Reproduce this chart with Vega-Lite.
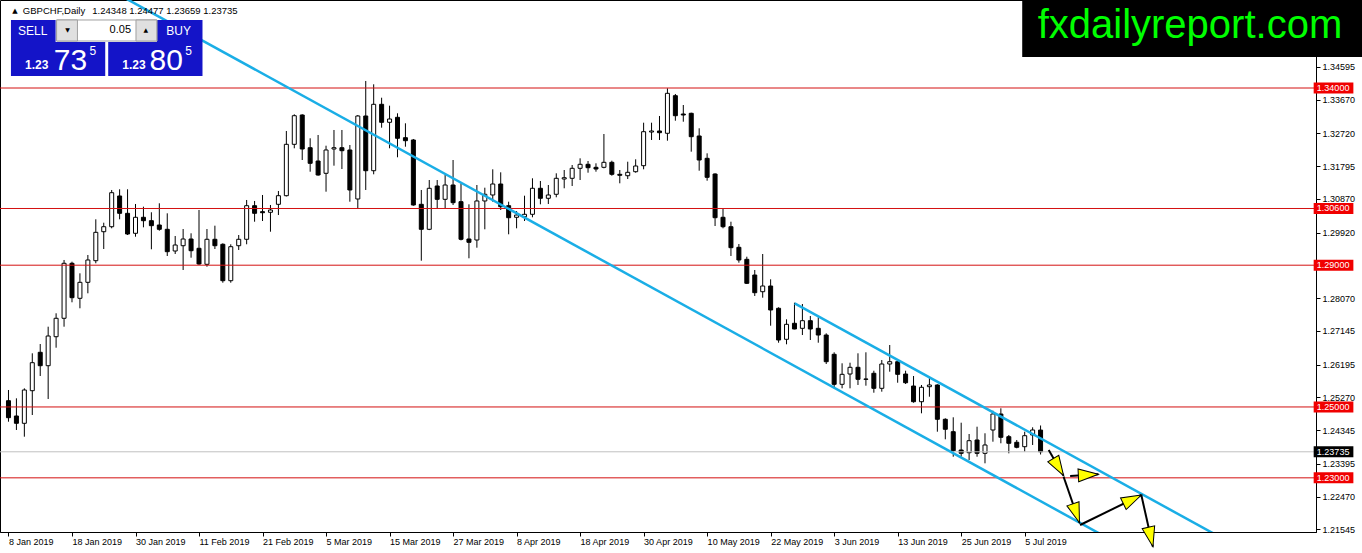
{
  "$schema": "https://vega.github.io/schema/vega-lite/v6.json",
  "width": 1316,
  "height": 532,
  "autosize": {"type": "none"},
  "padding": {"left": 0, "top": 0, "right": 46, "bottom": 21},
  "background": "#ffffff",
  "config": {"view": {"stroke": "#000", "strokeWidth": 1}},
  "datasets": {
    "candles": [
      {"bar":0,"date":"2019-01-08","o":1.25177,"h":1.25479,"l":1.24584,"c":1.24697},
      {"bar":1,"date":"2019-01-09","o":1.24745,"h":1.25244,"l":1.2435,"c":1.24539},
      {"bar":2,"date":"2019-01-10","o":1.24539,"h":1.25526,"l":1.24161,"c":1.25479},
      {"bar":3,"date":"2019-01-11","o":1.25459,"h":1.26514,"l":1.24773,"c":1.26249},
      {"bar":4,"date":"2019-01-14","o":1.26542,"h":1.26776,"l":1.25874,"c":1.26164},
      {"bar":5,"date":"2019-01-15","o":1.26164,"h":1.27265,"l":1.25225,"c":1.27002},
      {"bar":6,"date":"2019-01-16","o":1.26982,"h":1.27643,"l":1.26672,"c":1.27502},
      {"bar":7,"date":"2019-01-17","o":1.27502,"h":1.29147,"l":1.27265,"c":1.29054},
      {"bar":8,"date":"2019-01-18","o":1.29054,"h":1.29099,"l":1.27953,"c":1.28083},
      {"bar":9,"date":"2019-01-21","o":1.28066,"h":1.28771,"l":1.27784,"c":1.28517},
      {"bar":10,"date":"2019-01-22","o":1.28517,"h":1.29288,"l":1.28207,"c":1.29147},
      {"bar":11,"date":"2019-01-23","o":1.29127,"h":1.30295,"l":1.29054,"c":1.29928},
      {"bar":12,"date":"2019-01-24","o":1.29945,"h":1.30199,"l":1.29457,"c":1.30086},
      {"bar":13,"date":"2019-01-25","o":1.30086,"h":1.31122,"l":1.30041,"c":1.31046},
      {"bar":14,"date":"2019-01-28","o":1.30953,"h":1.31142,"l":1.30295,"c":1.30464},
      {"bar":15,"date":"2019-01-29","o":1.30464,"h":1.31142,"l":1.29852,"c":1.2988},
      {"bar":16,"date":"2019-01-30","o":1.299,"h":1.30727,"l":1.29804,"c":1.30352},
      {"bar":17,"date":"2019-01-31","o":1.30352,"h":1.30651,"l":1.30069,"c":1.30256},
      {"bar":18,"date":"2019-02-01","o":1.30256,"h":1.30493,"l":1.29449,"c":1.30115},
      {"bar":19,"date":"2019-02-04","o":1.30134,"h":1.30747,"l":1.29973,"c":1.30013},
      {"bar":20,"date":"2019-02-05","o":1.30013,"h":1.30464,"l":1.2926,"c":1.29381},
      {"bar":21,"date":"2019-02-06","o":1.29401,"h":1.29824,"l":1.29316,"c":1.2957},
      {"bar":22,"date":"2019-02-07","o":1.2955,"h":1.30021,"l":1.28865,"c":1.29739},
      {"bar":23,"date":"2019-02-08","o":1.29739,"h":1.299,"l":1.29212,"c":1.29409},
      {"bar":24,"date":"2019-02-11","o":1.29477,"h":1.30558,"l":1.29006,"c":1.29034},
      {"bar":25,"date":"2019-02-12","o":1.29025,"h":1.30021,"l":1.28958,"c":1.29731},
      {"bar":26,"date":"2019-02-13","o":1.29731,"h":1.30115,"l":1.29457,"c":1.2955},
      {"bar":27,"date":"2019-02-14","o":1.2959,"h":1.29618,"l":1.28506,"c":1.28563},
      {"bar":28,"date":"2019-02-15","o":1.28563,"h":1.2959,"l":1.28506,"c":1.29522},
      {"bar":29,"date":"2019-02-18","o":1.2955,"h":1.29852,"l":1.29429,"c":1.29731},
      {"bar":30,"date":"2019-02-19","o":1.29731,"h":1.3084,"l":1.2959,"c":1.30679},
      {"bar":31,"date":"2019-02-20","o":1.30679,"h":1.30812,"l":1.30227,"c":1.30464},
      {"bar":32,"date":"2019-02-21","o":1.3051,"h":1.30981,"l":1.30247,"c":1.30481},
      {"bar":33,"date":"2019-02-22","o":1.30493,"h":1.30699,"l":1.29945,"c":1.30558},
      {"bar":34,"date":"2019-02-25","o":1.30718,"h":1.31094,"l":1.30416,"c":1.30961},
      {"bar":35,"date":"2019-02-26","o":1.30961,"h":1.32787,"l":1.3094,"c":1.32411},
      {"bar":36,"date":"2019-02-27","o":1.32411,"h":1.33258,"l":1.32299,"c":1.33218},
      {"bar":37,"date":"2019-02-28","o":1.33238,"h":1.33258,"l":1.31968,"c":1.32279},
      {"bar":38,"date":"2019-03-01","o":1.32315,"h":1.32581,"l":1.31638,"c":1.31875},
      {"bar":39,"date":"2019-03-04","o":1.3194,"h":1.32674,"l":1.31525,"c":1.31545},
      {"bar":40,"date":"2019-03-05","o":1.31593,"h":1.32372,"l":1.31074,"c":1.32251},
      {"bar":41,"date":"2019-03-06","o":1.32279,"h":1.32815,"l":1.31808,"c":1.32315},
      {"bar":42,"date":"2019-03-07","o":1.32315,"h":1.32815,"l":1.31714,"c":1.32231},
      {"bar":43,"date":"2019-03-08","o":1.32251,"h":1.32392,"l":1.30792,"c":1.31122},
      {"bar":44,"date":"2019-03-11","o":1.30868,"h":1.33238,"l":1.30586,"c":1.3321},
      {"bar":45,"date":"2019-03-12","o":1.3321,"h":1.34198,"l":1.31122,"c":1.31666},
      {"bar":46,"date":"2019-03-13","o":1.31666,"h":1.34104,"l":1.31565,"c":1.3354},
      {"bar":47,"date":"2019-03-14","o":1.3354,"h":1.33726,"l":1.3288,"c":1.33032},
      {"bar":48,"date":"2019-03-15","o":1.33032,"h":1.33501,"l":1.32299,"c":1.33125},
      {"bar":49,"date":"2019-03-18","o":1.33173,"h":1.33286,"l":1.32045,"c":1.32581},
      {"bar":50,"date":"2019-03-19","o":1.32598,"h":1.33004,"l":1.32344,"c":1.32513},
      {"bar":51,"date":"2019-03-20","o":1.32533,"h":1.32561,"l":1.30679,"c":1.30699},
      {"bar":52,"date":"2019-03-21","o":1.30718,"h":1.31122,"l":1.29127,"c":1.30013},
      {"bar":53,"date":"2019-03-22","o":1.30013,"h":1.31404,"l":1.2999,"c":1.3117},
      {"bar":54,"date":"2019-03-25","o":1.31235,"h":1.31404,"l":1.30586,"c":1.30859},
      {"bar":55,"date":"2019-03-26","o":1.30859,"h":1.31545,"l":1.30605,"c":1.31263},
      {"bar":56,"date":"2019-03-27","o":1.31263,"h":1.31968,"l":1.30699,"c":1.30764},
      {"bar":57,"date":"2019-03-28","o":1.30792,"h":1.31311,"l":1.297,"c":1.29731},
      {"bar":58,"date":"2019-03-29","o":1.29739,"h":1.30718,"l":1.29195,"c":1.29646},
      {"bar":59,"date":"2019-04-01","o":1.29711,"h":1.31263,"l":1.29494,"c":1.30812},
      {"bar":60,"date":"2019-04-02","o":1.30812,"h":1.31187,"l":1.30013,"c":1.31001},
      {"bar":61,"date":"2019-04-03","o":1.30981,"h":1.31706,"l":1.30792,"c":1.31291},
      {"bar":62,"date":"2019-04-04","o":1.31291,"h":1.31621,"l":1.30558,"c":1.30651},
      {"bar":63,"date":"2019-04-05","o":1.30679,"h":1.30792,"l":1.29872,"c":1.3034},
      {"bar":64,"date":"2019-04-08","o":1.30352,"h":1.30529,"l":1.30041,"c":1.30416},
      {"bar":65,"date":"2019-04-09","o":1.30369,"h":1.30961,"l":1.30247,"c":1.30436},
      {"bar":66,"date":"2019-04-10","o":1.30436,"h":1.31452,"l":1.30352,"c":1.3117},
      {"bar":67,"date":"2019-04-11","o":1.3117,"h":1.31376,"l":1.30718,"c":1.30888},
      {"bar":68,"date":"2019-04-12","o":1.30888,"h":1.31263,"l":1.30727,"c":1.30981},
      {"bar":69,"date":"2019-04-15","o":1.31001,"h":1.31593,"l":1.30916,"c":1.31452},
      {"bar":70,"date":"2019-04-16","o":1.31432,"h":1.31686,"l":1.3117,"c":1.31469},
      {"bar":71,"date":"2019-04-17","o":1.31452,"h":1.31827,"l":1.31235,"c":1.31734},
      {"bar":72,"date":"2019-04-18","o":1.31734,"h":1.32016,"l":1.31404,"c":1.31847},
      {"bar":73,"date":"2019-04-19","o":1.31847,"h":1.3194,"l":1.3161,"c":1.31751},
      {"bar":74,"date":"2019-04-22","o":1.31762,"h":1.31875,"l":1.31638,"c":1.31714},
      {"bar":75,"date":"2019-04-23","o":1.31762,"h":1.32702,"l":1.31734,"c":1.31903},
      {"bar":76,"date":"2019-04-24","o":1.31903,"h":1.31949,"l":1.31525,"c":1.31565},
      {"bar":77,"date":"2019-04-25","o":1.31565,"h":1.31686,"l":1.31311,"c":1.31537},
      {"bar":78,"date":"2019-04-26","o":1.31525,"h":1.3192,"l":1.31432,"c":1.31621},
      {"bar":79,"date":"2019-04-29","o":1.31638,"h":1.31988,"l":1.3161,"c":1.31799},
      {"bar":80,"date":"2019-04-30","o":1.31808,"h":1.33021,"l":1.31706,"c":1.32767},
      {"bar":81,"date":"2019-05-01","o":1.32758,"h":1.33021,"l":1.32533,"c":1.32787},
      {"bar":82,"date":"2019-05-02","o":1.32787,"h":1.3321,"l":1.32533,"c":1.32739},
      {"bar":83,"date":"2019-05-03","o":1.32722,"h":1.33992,"l":1.32513,"c":1.3385},
      {"bar":84,"date":"2019-05-06","o":1.33783,"h":1.33831,"l":1.33077,"c":1.33218},
      {"bar":85,"date":"2019-05-07","o":1.33266,"h":1.3352,"l":1.33049,"c":1.33238},
      {"bar":86,"date":"2019-05-08","o":1.33286,"h":1.33303,"l":1.32203,"c":1.32626},
      {"bar":87,"date":"2019-05-09","o":1.32646,"h":1.32863,"l":1.31666,"c":1.31968},
      {"bar":88,"date":"2019-05-10","o":1.32016,"h":1.32157,"l":1.31384,"c":1.3148},
      {"bar":89,"date":"2019-05-13","o":1.31573,"h":1.31593,"l":1.30106,"c":1.3034},
      {"bar":90,"date":"2019-05-14","o":1.30352,"h":1.30605,"l":1.30041,"c":1.30086},
      {"bar":91,"date":"2019-05-15","o":1.30086,"h":1.30227,"l":1.2926,"c":1.29494},
      {"bar":92,"date":"2019-05-16","o":1.29505,"h":1.29598,"l":1.29071,"c":1.29147},
      {"bar":93,"date":"2019-05-17","o":1.29166,"h":1.2924,"l":1.2847,"c":1.28489},
      {"bar":94,"date":"2019-05-20","o":1.28723,"h":1.28865,"l":1.28131,"c":1.28224},
      {"bar":95,"date":"2019-05-21","o":1.28252,"h":1.29316,"l":1.28083,"c":1.28413},
      {"bar":96,"date":"2019-05-22","o":1.28413,"h":1.28602,"l":1.27293,"c":1.27736},
      {"bar":97,"date":"2019-05-23","o":1.27784,"h":1.27812,"l":1.26813,"c":1.26889},
      {"bar":98,"date":"2019-05-24","o":1.26909,"h":1.27473,"l":1.26768,"c":1.27332},
      {"bar":99,"date":"2019-05-27","o":1.27361,"h":1.27942,"l":1.27191,"c":1.272},
      {"bar":100,"date":"2019-05-28","o":1.27219,"h":1.27905,"l":1.2703,"c":1.27434},
      {"bar":101,"date":"2019-05-29","o":1.27434,"h":1.27567,"l":1.26889,"c":1.272},
      {"bar":102,"date":"2019-05-30","o":1.27219,"h":1.2753,"l":1.26813,"c":1.2703},
      {"bar":103,"date":"2019-05-31","o":1.2703,"h":1.27078,"l":1.26212,"c":1.26277},
      {"bar":104,"date":"2019-06-03","o":1.26486,"h":1.26542,"l":1.25543,"c":1.25639},
      {"bar":105,"date":"2019-06-04","o":1.25639,"h":1.26232,"l":1.25526,"c":1.25921},
      {"bar":106,"date":"2019-06-05","o":1.2593,"h":1.26249,"l":1.25526,"c":1.26119},
      {"bar":107,"date":"2019-06-06","o":1.26119,"h":1.26514,"l":1.2562,"c":1.2578},
      {"bar":108,"date":"2019-06-07","o":1.25789,"h":1.26542,"l":1.256,"c":1.2578},
      {"bar":109,"date":"2019-06-10","o":1.2595,"h":1.26023,"l":1.25402,"c":1.25526},
      {"bar":110,"date":"2019-06-11","o":1.25526,"h":1.26325,"l":1.25431,"c":1.26212},
      {"bar":111,"date":"2019-06-12","o":1.26212,"h":1.26748,"l":1.25995,"c":1.26277},
      {"bar":112,"date":"2019-06-13","o":1.26277,"h":1.26325,"l":1.25684,"c":1.25921},
      {"bar":113,"date":"2019-06-14","o":1.2593,"h":1.26023,"l":1.25648,"c":1.25684},
      {"bar":114,"date":"2019-06-17","o":1.25591,"h":1.25874,"l":1.2512,"c":1.25148},
      {"bar":115,"date":"2019-06-18","o":1.25148,"h":1.2562,"l":1.24821,"c":1.25555},
      {"bar":116,"date":"2019-06-19","o":1.25572,"h":1.25837,"l":1.25289,"c":1.2562},
      {"bar":117,"date":"2019-06-20","o":1.2562,"h":1.25639,"l":1.24302,"c":1.24652},
      {"bar":118,"date":"2019-06-21","o":1.24652,"h":1.2468,"l":1.24087,"c":1.2437},
      {"bar":119,"date":"2019-06-24","o":1.24302,"h":1.24708,"l":1.23596,"c":1.23766},
      {"bar":120,"date":"2019-06-25","o":1.23785,"h":1.24556,"l":1.23596,"c":1.23692},
      {"bar":121,"date":"2019-06-26","o":1.23709,"h":1.24237,"l":1.23503,"c":1.24048},
      {"bar":122,"date":"2019-06-27","o":1.24068,"h":1.24443,"l":1.23596,"c":1.23692},
      {"bar":123,"date":"2019-06-28","o":1.23692,"h":1.24257,"l":1.2341,"c":1.23927},
      {"bar":124,"date":"2019-07-01","o":1.2435,"h":1.24894,"l":1.2402,"c":1.24801},
      {"bar":125,"date":"2019-07-02","o":1.24801,"h":1.24962,"l":1.23975,"c":1.24144},
      {"bar":126,"date":"2019-07-03","o":1.24161,"h":1.24209,"l":1.23692,"c":1.23975},
      {"bar":127,"date":"2019-07-04","o":1.24003,"h":1.24068,"l":1.23833,"c":1.23862},
      {"bar":128,"date":"2019-07-05","o":1.23879,"h":1.24302,"l":1.23738,"c":1.24189},
      {"bar":129,"date":"2019-07-08","o":1.24209,"h":1.24426,"l":1.23927,"c":1.2435},
      {"bar":130,"date":"2019-07-09","o":1.24348,"h":1.24477,"l":1.23659,"c":1.23735}
    ],
    "levels": [
      {"price": 1.34, "label": "1.34000", "kind": "level"},
      {"price": 1.306, "label": "1.30600", "kind": "level"},
      {"price": 1.29, "label": "1.29000", "kind": "level"},
      {"price": 1.25, "label": "1.25000", "kind": "level"},
      {"price": 1.23, "label": "1.23000", "kind": "level"},
      {"price": 1.23735, "label": "1.23735", "kind": "bid"}
    ],
    "trend": [
      {"line": "lower", "bar": 5, "price": 1.37729},
      {"line": "lower", "bar": 140, "price": 1.21111},
      {"line": "upper", "bar": 99.025, "price": 1.27925},
      {"line": "upper", "bar": 155, "price": 1.21034}
    ],
    "arrows": [
      {"arrow": "a1", "bar": 131.025, "price": 1.23786},
      {"arrow": "a1", "bar": 132.9, "price": 1.2306},
      {"arrow": "a2", "bar": 133.725, "price": 1.23052},
      {"arrow": "a2", "bar": 137.275, "price": 1.231},
      {"arrow": "a3", "bar": 132.9, "price": 1.23032},
      {"arrow": "a3", "bar": 134.9, "price": 1.21734},
      {"arrow": "a4", "bar": 134.975, "price": 1.21669},
      {"arrow": "a4", "bar": 142.69, "price": 1.22516},
      {"arrow": "a5", "bar": 142.69, "price": 1.22516},
      {"arrow": "a5", "bar": 144.15, "price": 1.21057}
    ]
  },
  "layer": [
    {
      "data": {"name": "candles"},
      "mark": {"type": "rule", "color": "#000000", "strokeWidth": 1},
      "encoding": {
        "x": {
          "field": "bar", "type": "quantitative",
          "scale": {"domain": [-0.4375, 164.0625], "nice": false, "zero": false},
          "axis": {
            "title": null, "grid": false,
            "values": [0, 8, 16, 24, 32, 40, 48, 56, 64, 72, 80, 88, 96, 104, 112, 120, 128],
            "labelExpr": "['8 Jan 2019','18 Jan 2019','30 Jan 2019','11 Feb 2019','21 Feb 2019','5 Mar 2019','15 Mar 2019','27 Mar 2019','8 Apr 2019','18 Apr 2019','30 Apr 2019','10 May 2019','22 May 2019','3 Jun 2019','13 Jun 2019','25 Jun 2019','5 Jul 2019'][round(datum.value / 8)]",
            "labelAlign": "left", "labelBaseline": "top", "labelPadding": 1,
            "labelFont": "Liberation Sans", "labelFontSize": 9, "labelColor": "#000000",
            "labelFlush": false, "labelOverlap": false, "labelBound": false,
            "tickSize": 4, "tickColor": "#000000", "domainColor": "#000000"
          }
        },
        "y": {
          "field": "l", "type": "quantitative",
          "scale": {"domain": [1.214718, 1.364831], "nice": false, "zero": false},
          "axis": {
            "orient": "right", "title": null, "grid": false,
            "values": [1.21545, 1.2247, 1.23395, 1.24345, 1.2527, 1.26195, 1.27145, 1.2807, 1.2992, 1.3087, 1.31795, 1.3272, 1.3367, 1.34595],
            "format": ".5f",
            "labelAlign": "left", "labelBaseline": "middle", "labelPadding": 2,
            "labelFont": "Liberation Sans", "labelFontSize": 9, "labelColor": "#000000",
            "labelFlush": false, "labelOverlap": false, "labelBound": false,
            "tickSize": 4, "tickColor": "#000000", "domainColor": "#000000"
          }
        },
        "y2": {"field": "h"}
      }
    },
    {
      "data": {"name": "candles"},
      "mark": {"type": "bar", "width": 4, "stroke": "#000000", "strokeWidth": 1},
      "encoding": {
        "x": {"field": "bar", "type": "quantitative"},
        "y": {"field": "o", "type": "quantitative"},
        "y2": {"field": "c"},
        "fill": {"condition": {"test": "datum.c >= datum.o", "value": "#ffffff"}, "value": "#000000"}
      }
    },
    {
      "data": {"name": "levels"},
      "transform": [{"filter": "datum.kind == 'level'"}],
      "mark": {"type": "rule", "color": "#d41010", "strokeWidth": 1},
      "encoding": {"y": {"field": "price", "type": "quantitative"}}
    },
    {
      "data": {"name": "levels"},
      "transform": [{"filter": "datum.kind == 'bid'"}],
      "mark": {"type": "rule", "color": "#c0c0c0", "strokeWidth": 1},
      "encoding": {"y": {"field": "price", "type": "quantitative"}}
    },
    {
      "data": {"name": "trend"},
      "mark": {"type": "line", "color": "#1aaee6", "strokeWidth": 2.5, "clip": true},
      "encoding": {
        "x": {"field": "bar", "type": "quantitative"},
        "y": {"field": "price", "type": "quantitative"},
        "detail": {"field": "line"}
      }
    },
    {
      "data": {"name": "arrows"},
      "mark": {"type": "line", "color": "#000000", "strokeWidth": 2},
      "encoding": {
        "x": {"field": "bar", "type": "quantitative"},
        "y": {"field": "price", "type": "quantitative"},
        "detail": {"field": "arrow"}
      }
    },
    {
      "data": {"name": "arrows"},
      "transform": [{"filter": "datum.arrow == 'a1'"}, {"filter": "datum.bar > 132"}],
      "mark": {"type": "point", "shape": "M0,0L-0.32,1L0.32,1Z", "filled": true, "fill": "#ffff00", "stroke": "#000000", "strokeWidth": 1, "size": 1600, "opacity": 1, "angle": 149},
      "encoding": {
        "x": {"field": "bar", "type": "quantitative"},
        "y": {"field": "price", "type": "quantitative"}
      }
    },
    {
      "data": {"name": "arrows"},
      "transform": [{"filter": "datum.arrow == 'a2'"}, {"filter": "datum.bar > 135"}],
      "mark": {"type": "point", "shape": "M0,0L-0.32,1L0.32,1Z", "filled": true, "fill": "#ffff00", "stroke": "#000000", "strokeWidth": 1, "size": 1600, "opacity": 1, "angle": 87},
      "encoding": {
        "x": {"field": "bar", "type": "quantitative"},
        "y": {"field": "price", "type": "quantitative"}
      }
    },
    {
      "data": {"name": "arrows"},
      "transform": [{"filter": "datum.arrow == 'a3'"}, {"filter": "datum.bar > 134"}],
      "mark": {"type": "point", "shape": "M0,0L-0.32,1L0.32,1Z", "filled": true, "fill": "#ffff00", "stroke": "#000000", "strokeWidth": 1, "size": 1600, "opacity": 1, "angle": 161},
      "encoding": {
        "x": {"field": "bar", "type": "quantitative"},
        "y": {"field": "price", "type": "quantitative"}
      }
    },
    {
      "data": {"name": "arrows"},
      "transform": [{"filter": "datum.arrow == 'a4'"}, {"filter": "datum.bar > 140"}],
      "mark": {"type": "point", "shape": "M0,0L-0.32,1L0.32,1Z", "filled": true, "fill": "#ffff00", "stroke": "#000000", "strokeWidth": 1, "size": 1600, "opacity": 1, "angle": 64},
      "encoding": {
        "x": {"field": "bar", "type": "quantitative"},
        "y": {"field": "price", "type": "quantitative"}
      }
    },
    {
      "data": {"name": "arrows"},
      "transform": [{"filter": "datum.arrow == 'a5'"}, {"filter": "datum.bar > 143"}],
      "mark": {"type": "point", "shape": "M0,0L-0.32,1L0.32,1Z", "filled": true, "fill": "#ffff00", "stroke": "#000000", "strokeWidth": 1, "size": 1600, "opacity": 1, "angle": 167},
      "encoding": {
        "x": {"field": "bar", "type": "quantitative"},
        "y": {"field": "price", "type": "quantitative"}
      }
    },
    {
      "data": {"name": "levels"},
      "mark": {"type": "rule", "strokeWidth": 11, "strokeCap": "butt"},
      "encoding": {
        "x": {"datum": 164.4, "type": "quantitative"},
        "x2": {"datum": 169.4},
        "y": {"field": "price", "type": "quantitative"},
        "color": {"condition": {"test": "datum.kind == 'bid'", "value": "#000000"}, "value": "#f00000"}
      }
    },
    {
      "data": {"name": "levels"},
      "mark": {"type": "text", "color": "#ffffff", "font": "Liberation Sans", "fontSize": 9, "align": "left", "baseline": "middle"},
      "encoding": {
        "x": {"datum": 164.8, "type": "quantitative"},
        "y": {"field": "price", "type": "quantitative"},
        "text": {"field": "label"}
      }
    },
    {
      "data": {"values": [{}]},
      "mark": {"type": "rect", "color": "#1414c8"},
      "encoding": {
        "x": {"datum": 0.3125, "type": "quantitative"}, "x2": {"datum": 5.9375},
        "y": {"datum": 1.35919, "type": "quantitative"}, "y2": {"datum": 1.35298}
      }
    },
    {
      "data": {"values": [{}]},
      "mark": {"type": "rect", "color": "#1414c8"},
      "encoding": {
        "x": {"datum": 0.3125, "type": "quantitative"}, "x2": {"datum": 12.1875},
        "y": {"datum": 1.35298, "type": "quantitative"}, "y2": {"datum": 1.34339}
      }
    },
    {
      "data": {"values": [{}]},
      "mark": {"type": "rect", "color": "#1414c8"},
      "encoding": {
        "x": {"datum": 18.6875, "type": "quantitative"}, "x2": {"datum": 24.4375},
        "y": {"datum": 1.35919, "type": "quantitative"}, "y2": {"datum": 1.35298}
      }
    },
    {
      "data": {"values": [{}]},
      "mark": {"type": "rect", "color": "#1414c8"},
      "encoding": {
        "x": {"datum": 12.5625, "type": "quantitative"}, "x2": {"datum": 24.4375},
        "y": {"datum": 1.35298, "type": "quantitative"}, "y2": {"datum": 1.34339}
      }
    },
    {
      "data": {"values": [{}]},
      "mark": {"type": "rect", "fill": "#ffffff", "stroke": "#a0a0a0", "strokeWidth": 1},
      "encoding": {
        "x": {"datum": 6.0625, "type": "quantitative"}, "x2": {"datum": 18.6875},
        "y": {"datum": 1.35919, "type": "quantitative"}, "y2": {"datum": 1.35326}
      }
    },
    {
      "data": {"values": [{}]},
      "mark": {"type": "rect", "fill": "#e0e0e0", "stroke": "#a0a0a0", "strokeWidth": 1},
      "encoding": {
        "x": {"datum": 6.0625, "type": "quantitative"}, "x2": {"datum": 8.6875},
        "y": {"datum": 1.35919, "type": "quantitative"}, "y2": {"datum": 1.35326}
      }
    },
    {
      "data": {"values": [{}]},
      "mark": {"type": "rect", "fill": "#e0e0e0", "stroke": "#a0a0a0", "strokeWidth": 1},
      "encoding": {
        "x": {"datum": 16.0625, "type": "quantitative"}, "x2": {"datum": 18.6875},
        "y": {"datum": 1.35919, "type": "quantitative"}, "y2": {"datum": 1.35326}
      }
    },
    {
      "data": {"values": [{"t": "SELL", "bar": 3.0625}, {"t": "BUY", "bar": 21.4375}]},
      "mark": {"type": "text", "color": "#ffffff", "font": "Liberation Sans", "fontSize": 12, "align": "center", "baseline": "middle"},
      "encoding": {
        "x": {"field": "bar", "type": "quantitative"},
        "y": {"datum": 1.35617, "type": "quantitative"},
        "text": {"field": "t"}
      }
    },
    {
      "data": {"values": [{}]},
      "mark": {"type": "text", "color": "#000000", "font": "Liberation Sans", "fontSize": 11, "align": "right", "baseline": "middle", "text": "0.05"},
      "encoding": {
        "x": {"datum": 15.4375, "type": "quantitative"},
        "y": {"datum": 1.35637, "type": "quantitative"}
      }
    },
    {
      "data": {"values": [{"t": "▼", "bar": 7.4375}, {"t": "▲", "bar": 17.3125}]},
      "mark": {"type": "text", "color": "#000000", "font": "DejaVu Sans", "fontSize": 6, "align": "center", "baseline": "middle"},
      "encoding": {
        "x": {"field": "bar", "type": "quantitative"},
        "y": {"datum": 1.35637, "type": "quantitative"},
        "text": {"field": "t"}
      }
    },
    {
      "data": {"values": [{"t": "1.23", "bar": 3.5625}, {"t": "1.23", "bar": 15.8125}]},
      "mark": {"type": "text", "color": "#ffffff", "font": "Liberation Sans", "fontSize": 12, "fontWeight": "bold", "align": "center", "baseline": "alphabetic"},
      "encoding": {
        "x": {"field": "bar", "type": "quantitative"},
        "y": {"datum": 1.34528, "type": "quantitative"},
        "text": {"field": "t"}
      }
    },
    {
      "data": {"values": [{"t": "73", "bar": 7.8125}, {"t": "80", "bar": 19.875}]},
      "mark": {"type": "text", "color": "#ffffff", "font": "Liberation Sans", "fontSize": 30, "align": "center", "baseline": "alphabetic"},
      "encoding": {
        "x": {"field": "bar", "type": "quantitative"},
        "y": {"datum": 1.34508, "type": "quantitative"},
        "text": {"field": "t"}
      }
    },
    {
      "data": {"values": [{"t": "5", "bar": 10.625}, {"t": "5", "bar": 22.6875}]},
      "mark": {"type": "text", "color": "#ffffff", "font": "Liberation Sans", "fontSize": 12, "align": "center", "baseline": "alphabetic"},
      "encoding": {
        "x": {"field": "bar", "type": "quantitative"},
        "y": {"datum": 1.34931, "type": "quantitative"},
        "text": {"field": "t"}
      }
    },
    {
      "data": {"values": [{}]},
      "mark": {"type": "text", "color": "#000000", "font": "DejaVu Sans", "fontSize": 7, "align": "center", "baseline": "middle", "text": "▲"},
      "encoding": {
        "x": {"datum": 0.8125, "type": "quantitative"},
        "y": {"datum": 1.36173, "type": "quantitative"}
      }
    },
    {
      "data": {"values": [{"t": "GBPCHF,Daily", "bar": 1.8125}, {"t": "1.24348 1.24477 1.23659 1.23735", "bar": 10.5625}]},
      "mark": {"type": "text", "color": "#000000", "font": "Liberation Sans", "fontSize": 9.5, "align": "left", "baseline": "middle"},
      "encoding": {
        "x": {"field": "bar", "type": "quantitative"},
        "y": {"datum": 1.36173, "type": "quantitative"},
        "text": {"field": "t"}
      }
    },
    {
      "data": {"values": [{}]},
      "mark": {"type": "rect", "color": "#000000"},
      "encoding": {
        "x": {"datum": 127.6875, "type": "quantitative"}, "x2": {"datum": 170.5},
        "y": {"datum": 1.3675, "type": "quantitative"}, "y2": {"datum": 1.34875}
      }
    },
    {
      "data": {"values": [{}]},
      "mark": {"type": "text", "color": "#00ff00", "font": "Liberation Sans", "fontSize": 40, "align": "center", "baseline": "alphabetic", "text": "fxdailyreport.com"},
      "encoding": {
        "x": {"datum": 148.8125, "type": "quantitative"},
        "y": {"datum": 1.35411, "type": "quantitative"}
      }
    }
  ]
}
